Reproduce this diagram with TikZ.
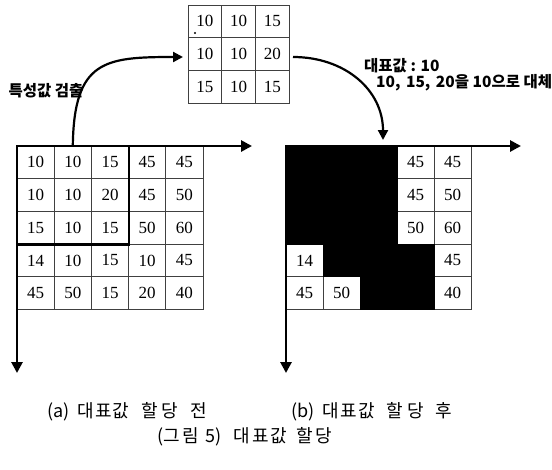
\documentclass[tikz,border=0pt]{standalone}
\usepackage{fontspec}
\setmainfont{Liberation Serif}
\newfontfamily\kr{Noto Sans CJK KR}
\usetikzlibrary{arrows.meta}

\begin{document}
\begin{tikzpicture}[x=1pt,y=-1pt,
  cell/.style={draw=black!75, line width=0.7pt, inner sep=0pt,
    minimum width=37.2pt, minimum height=32.7pt,
    font=\fontsize{17}{17}\selectfont},
  scell/.style={cell, minimum width=33.7pt},
  blackcell/.style={cell, fill=black, draw=black},
  axis/.style={line width=2.8pt, line join=miter, {Triangle[length=11pt,width=11pt]}-{Triangle[length=11pt,width=11pt]}},
  blockline/.style={line width=2.6pt},
  curve/.style={line width=2.2pt, -{Triangle[length=10pt,width=10pt]}},
  label/.style={font=\kr\bfseries\fontsize{15.5}{17}\selectfont, inner sep=0pt},
  caption/.style={font=\kr\fontsize{18}{20}\selectfont, inner sep=0pt}]
\useasboundingbox (0,0) rectangle (552,469);

% (a) grid before assignment
\foreach \row [count=\r] in {{10,10,15,45,45},{10,10,20,45,50},{15,10,15,50,60},{14,10,15,10,45},{45,50,15,20,40}}
  \foreach \v [count=\c] in \row
    \node[cell] (L-\r-\c) at ({17+37.2*(\c-0.5)},{146+32.7*(\r-0.5)}) {\v};
\draw[blockline] (L-1-3.north east) -- (L-3-3.south east) -- (L-3-1.south west);
\coordinate (LO) at (17,146);
\coordinate (LX) at (252,146);
\coordinate (LY) at (17,373);
\draw[axis] (LX) -- (LO) -- (LY);

% (b) grid after assignment
\foreach \r/\c/\v in {1/4/45,1/5/45,2/4/45,2/5/50,3/4/50,3/5/60,4/1/14,4/5/45,5/1/45,5/2/50,5/5/40}
  \node[cell, minimum width=37pt] (R-\r-\c) at ({286+37*(\c-0.5)},{146+32.7*(\r-0.5)}) {\v};
\foreach \r/\c in {1/1,1/2,1/3,2/1,2/2,2/3,3/1,3/2,3/3,4/2,4/3,4/4,5/3,5/4}
  \node[blackcell, minimum width=37pt] (R-\r-\c) at ({286+37*(\c-0.5)},{146+32.7*(\r-0.5)}) {};
\coordinate (RO) at (286,146);
\coordinate (RX) at (521,146);
\coordinate (RY) at (286,373);
\draw[axis] (RX) -- (RO) -- (RY);

% extracted 3x3 window
\foreach \row [count=\r] in {{10,10,15},{10,10,20},{15,10,15}}
  \foreach \v [count=\c] in \row
    \node[scell] (S-\r-\c) at ({188+33.7*(\c-0.5)},{5+32.7*(\r-0.5)}) {\v};
\fill (195,33) circle (1.1pt);

% connectors
\coordinate (A1) at (183,57);
\coordinate (B1) at (293,57);
\coordinate (B2) at (383,140);
\draw[curve] (L-1-2.north) .. controls (74,60) and (105,57) .. (A1);
\draw[curve] (B1) .. controls (345,57) and (383,90) .. (B2);

% labels
\node[label] (feat) at (46,91) {특성값 검출};
\node[label, anchor=west] (rep) at (364,66) {대표값 : 10};
\node[label, anchor=west] (repl) at (376,83) {10,\hspace{2pt} 15,\hspace{2pt} 20을 10으로 대체};

% captions
\node[caption] (capa) at (127,412) {(a)\hspace{8pt}대\kern1pt 표\kern1pt 값\hspace{12pt}할\kern4pt 당\hspace{12pt}전};
\node[caption] (capb) at (372,412) {(b)\hspace{8pt}대\kern1pt 표\kern1pt 값\hspace{12pt}할\kern4pt 당\hspace{12pt}후};
\node[caption] (capc) at (245,437) {(그\kern2pt 림\hspace{7pt}5)\hspace{12pt}대\kern2pt 표\kern2pt 값\hspace{9pt}할\kern3pt 당};
\end{tikzpicture}
\end{document}
